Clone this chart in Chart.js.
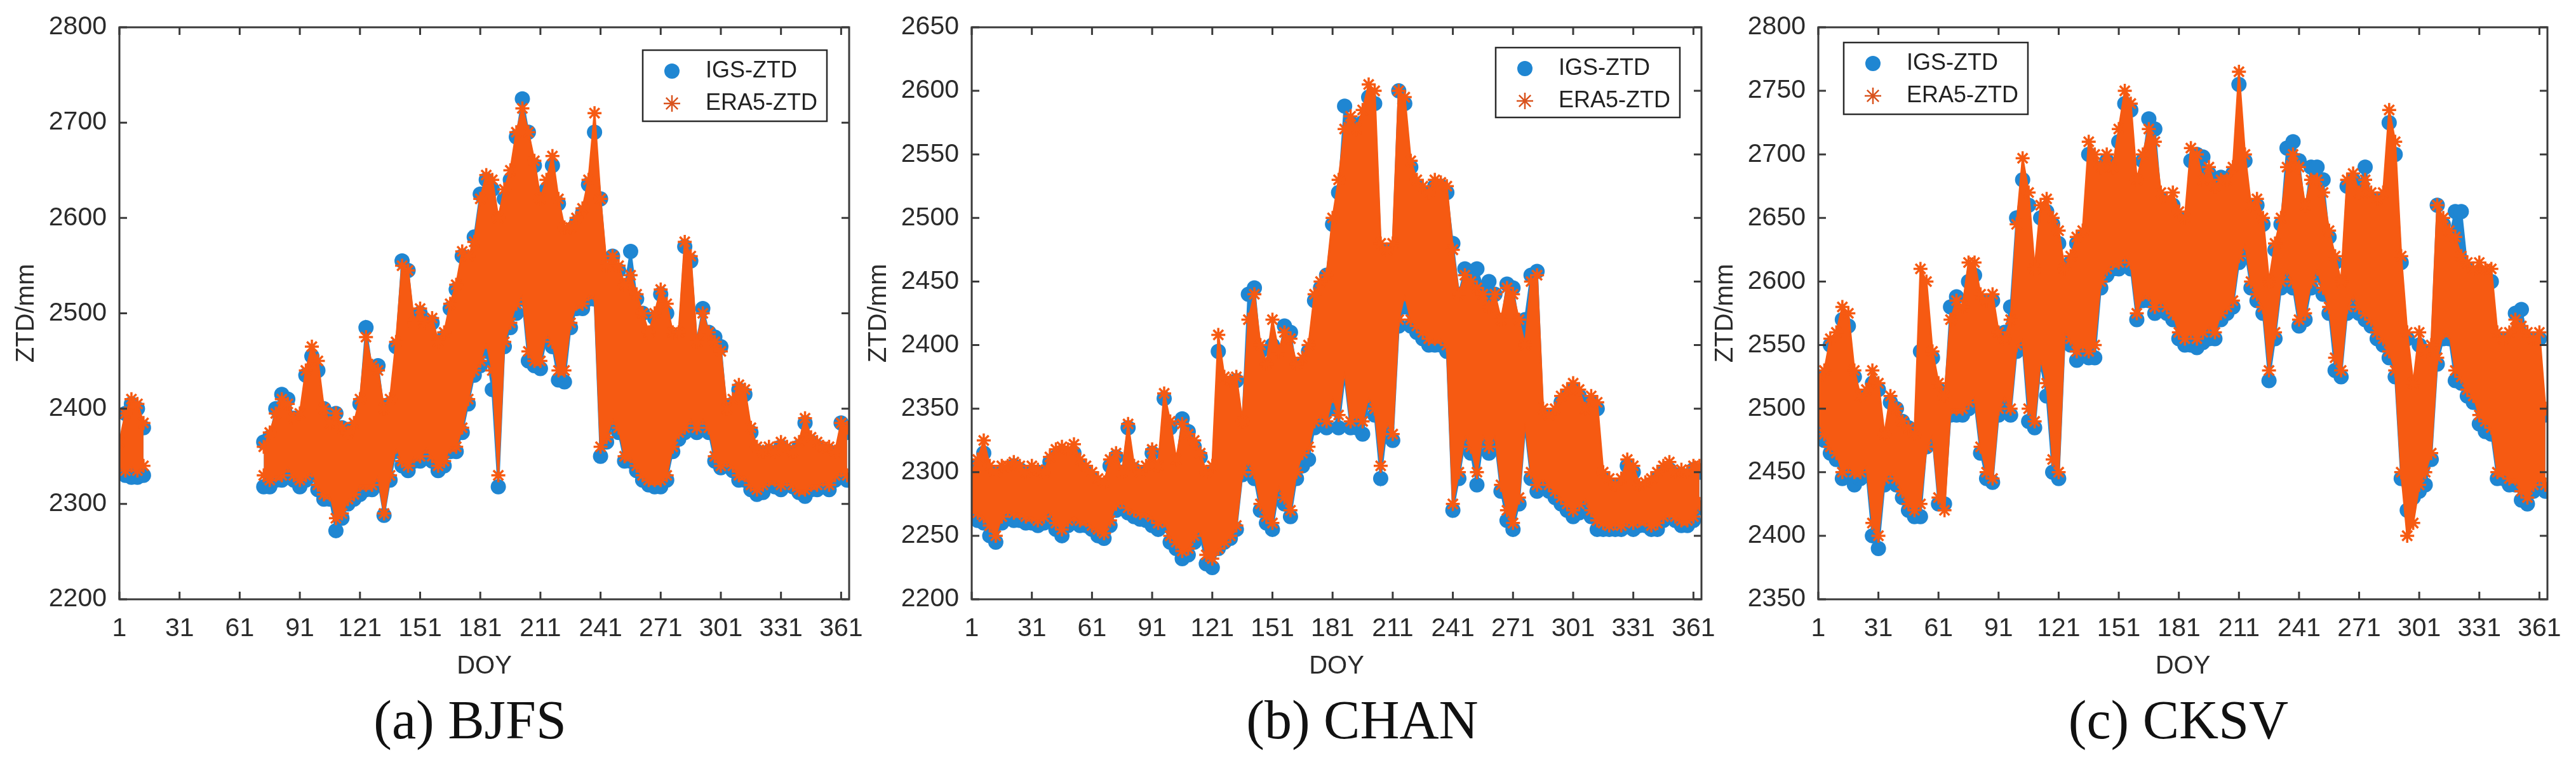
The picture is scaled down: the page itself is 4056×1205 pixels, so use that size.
<!DOCTYPE html>
<html lang="en">
<head>
<meta charset="UTF-8">
<title>IGS-ZTD vs ERA5-ZTD</title>
<style>
    html, body { margin: 0; padding: 0; background: #fff; }
    body { width: 4056px; height: 1205px; position: relative; overflow: hidden; }
    .panel { position: absolute; top: 0; }
    .cap {
        position: absolute; top: 1091px; width: 600px; text-align: center;
        font-family: "Liberation Serif", "Times New Roman", serif;
        font-size: 86px; line-height: 86px; color: #111;
    }
</style>
</head>
<body>
<div class="panel" style="left:0px"><canvas id="chartA" width="1397" height="1080"></canvas></div>
<div class="panel" style="left:1342px"><canvas id="chartB" width="1397" height="1080"></canvas></div>
<div class="panel" style="left:2675px"><canvas id="chartC" width="1396" height="1080"></canvas></div>

<div class="cap" style="left:440px">(a) BJFS</div>
<div class="cap" style="left:1845px">(b) CHAN</div>
<div class="cap" style="left:3130px">(c) CKSV</div>

<script src="https://cdn.jsdelivr.net/npm/chart.js@4"></script>
<script>
// sample days (every 3rd DOY)
const days = [
    1, 4, 7, 10, 13, 16, 19, 22, 25, 28,
    31, 34, 37, 40, 43, 46, 49, 52, 55, 58,
    61, 64, 67, 70, 73, 76, 79, 82, 85, 88,
    91, 94, 97, 100, 103, 106, 109, 112, 115, 118,
    121, 124, 127, 130, 133, 136, 139, 142, 145, 148,
    151, 154, 157, 160, 163, 166, 169, 172, 175, 178,
    181, 184, 187, 190, 193, 196, 199, 202, 205, 208,
    211, 214, 217, 220, 223, 226, 229, 232, 235, 238,
    241, 244, 247, 250, 253, 256, 259, 262, 265, 268,
    271, 274, 277, 280, 283, 286, 289, 292, 295, 298,
    301, 304, 307, 310, 313, 316, 319, 322, 325, 328,
    331, 334, 337, 340, 343, 346, 349, 352, 355, 358,
    361, 364
];
const xTicks = [1, 31, 61, 91, 121, 151, 181, 211, 241, 271, 301, 331, 361];
const yTicksA = [2200, 2300, 2400, 2500, 2600, 2700, 2800];
const yTicksB = [2200, 2250, 2300, 2350, 2400, 2450, 2500, 2550, 2600, 2650];
const yTicksC = [2350, 2400, 2450, 2500, 2550, 2600, 2650, 2700, 2750, 2800];

// (a) BJFS  -- upper / lower edge of the point cloud, mm
const bjfsEraHi = [
    2365, 2395, 2410, 2405, 2385, null, null, null, null, null,
    null, null, null, null, null, null, null, null, null, null,
    null, null, null, null, 2360, 2375, 2395, 2410, 2405, 2390,
    2395, 2440, 2465, 2450, 2400, 2385, 2395, 2380, 2375, 2385,
    2410, 2475, 2445, 2440, 2400, 2410, 2470, 2550, 2545, 2490,
    2505, 2490, 2495, 2470, 2480, 2510, 2530, 2565, 2560, 2575,
    2620, 2645, 2640, 2600, 2630, 2650, 2690, 2715, 2690, 2660,
    2620, 2640, 2665, 2620, 2590, 2590, 2600, 2610, 2640, 2710,
    2620, 2550, 2560, 2550, 2530, 2540, 2520, 2500, 2480, 2500,
    2525, 2510, 2480, 2480, 2575, 2560, 2470, 2500, 2480, 2470,
    2460, 2400, 2410, 2425, 2420, 2380, 2360, 2355, 2360, 2355,
    2365, 2360, 2355, 2365, 2390, 2370, 2365, 2360, 2360, 2355,
    2385, 2380
];
const bjfsEraLo = [
    2340, 2335, 2340, 2335, 2340, null, null, null, null, null,
    null, null, null, null, null, null, null, null, null, null,
    null, null, null, null, 2330, 2325, 2330, 2330, 2340, 2330,
    2325, 2330, 2335, 2320, 2310, 2310, 2285, 2290, 2305, 2310,
    2320, 2320, 2320, 2330, 2290, 2330, 2360, 2345, 2340, 2350,
    2350, 2360, 2350, 2340, 2345, 2360, 2360, 2380, 2410, 2440,
    2450, 2470, 2440, 2330, 2470, 2490, 2510, 2520, 2460, 2450,
    2450, 2480, 2470, 2440, 2440, 2490, 2510, 2510, 2520, 2520,
    2360, 2370, 2390, 2380, 2350, 2350, 2340, 2330, 2325, 2325,
    2325, 2330, 2360, 2375, 2380, 2390, 2380, 2390, 2380, 2350,
    2340, 2345, 2340, 2330, 2330, 2320, 2315, 2320, 2325, 2325,
    2320, 2325, 2320, 2315, 2315, 2320, 2320, 2325, 2320, 2330,
    2335, 2330
];
const bjfsIgsHi = [
    2360, 2395, 2405, 2400, 2380, null, null, null, null, null,
    null, null, null, null, null, null, null, null, null, null,
    null, null, null, null, 2365, 2370, 2400, 2415, 2410, 2390,
    2390, 2435, 2455, 2440, 2400, 2390, 2395, 2380, 2370, 2380,
    2405, 2485, 2440, 2445, 2395, 2405, 2465, 2555, 2545, 2485,
    2500, 2490, 2490, 2465, 2475, 2505, 2525, 2560, 2555, 2580,
    2625, 2640, 2630, 2590, 2620, 2640, 2685, 2725, 2690, 2655,
    2615, 2630, 2655, 2615, 2585, 2585, 2595, 2605, 2635, 2690,
    2620, 2545, 2560, 2545, 2525, 2565, 2515, 2500, 2475, 2495,
    2520, 2500, 2475, 2475, 2570, 2555, 2470, 2505, 2480, 2475,
    2465, 2395, 2405, 2420, 2415, 2375, 2355, 2350, 2355, 2350,
    2360, 2355, 2350, 2360, 2385, 2365, 2360, 2355, 2355, 2350,
    2385, 2375
];
const bjfsIgsLo = [
    2335, 2330, 2328, 2328, 2330, null, null, null, null, null,
    null, null, null, null, null, null, null, null, null, null,
    null, null, null, null, 2318, 2318, 2325, 2325, 2330, 2325,
    2318, 2325, 2330, 2315, 2305, 2305, 2272, 2285, 2300, 2305,
    2310, 2315, 2315, 2325, 2288, 2325, 2355, 2340, 2335, 2345,
    2345, 2355, 2345, 2335, 2340, 2355, 2355, 2375, 2405, 2435,
    2445, 2460, 2420, 2318, 2465, 2485, 2500, 2515, 2450, 2445,
    2442, 2475, 2465, 2430, 2428, 2485, 2505, 2505, 2515, 2515,
    2350, 2365, 2385, 2375, 2345, 2345, 2335, 2325, 2320, 2318,
    2318, 2325, 2355, 2368, 2375, 2385, 2375, 2380, 2375, 2345,
    2338, 2340, 2335, 2325, 2325, 2315, 2310, 2312, 2320, 2318,
    2315, 2320, 2318, 2312, 2308, 2315, 2315, 2318, 2315, 2325,
    2330, 2325
];

// (b) CHAN
const chanEraHi = [
    2300, 2310, 2325, 2305, 2300, 2305, 2305, 2308, 2305, 2300,
    2305, 2302, 2300, 2312, 2318, 2320, 2318, 2322, 2310, 2305,
    2300, 2295, 2292, 2310, 2315, 2300, 2338, 2305, 2300, 2305,
    2318, 2305, 2362, 2340, 2310, 2338, 2330, 2325, 2315, 2300,
    2305, 2408, 2375, 2372, 2375, 2340, 2420, 2440, 2400, 2385,
    2420, 2395, 2410, 2405, 2385, 2390, 2400, 2440, 2450, 2455,
    2500, 2530, 2570, 2580, 2570, 2585, 2605, 2600, 2480, 2475,
    2480, 2600, 2595, 2545, 2530, 2525, 2520, 2530, 2528, 2525,
    2475, 2440, 2455, 2450, 2445, 2440, 2430, 2440, 2420, 2445,
    2440, 2420, 2400, 2450, 2455, 2350, 2345, 2350, 2360, 2365,
    2370, 2365, 2350, 2360, 2355, 2300, 2295, 2290, 2295, 2310,
    2305, 2290, 2292, 2295, 2300, 2305, 2308, 2300, 2302, 2300,
    2305, 2305
];
const chanEraLo = [
    2270, 2268, 2265, 2258, 2250, 2265, 2270, 2268, 2268, 2265,
    2265, 2262, 2265, 2270, 2260, 2255, 2262, 2265, 2262, 2262,
    2258, 2255, 2252, 2262, 2275, 2278, 2272, 2270, 2268, 2268,
    2265, 2260, 2262, 2250, 2245, 2238, 2240, 2250, 2255, 2235,
    2232, 2240, 2245, 2250, 2258, 2300, 2310, 2300, 2275, 2265,
    2260, 2290, 2280, 2270, 2300, 2315, 2320, 2340, 2345, 2340,
    2360, 2345, 2380, 2340, 2345, 2340, 2360, 2350, 2305, 2340,
    2330, 2420, 2440, 2420, 2415, 2410, 2405, 2405, 2405, 2400,
    2275, 2300, 2330, 2320, 2300, 2330, 2320, 2330, 2290, 2270,
    2260, 2280, 2340, 2300, 2290, 2295, 2290, 2285, 2280, 2275,
    2270, 2275, 2280, 2270, 2262, 2260, 2258, 2260, 2258, 2262,
    2260, 2262, 2262, 2258, 2260, 2265, 2268, 2265, 2262, 2262,
    2265, 2275
];
const chanIgsHi = [
    2300, 2305, 2315, 2300, 2295, 2300, 2300, 2305, 2302, 2298,
    2300, 2300, 2298, 2308, 2312, 2315, 2312, 2315, 2305, 2300,
    2295, 2290, 2288, 2305, 2312, 2300, 2335, 2302, 2298, 2300,
    2315, 2300, 2358, 2335, 2305, 2342, 2332, 2320, 2312, 2298,
    2300, 2395, 2370, 2370, 2372, 2338, 2440, 2445, 2395, 2380,
    2400, 2390, 2415, 2410, 2380, 2385, 2395, 2435, 2445, 2455,
    2495, 2520, 2588, 2575, 2565, 2575, 2595, 2590, 2475, 2470,
    2475, 2600, 2590, 2540, 2525, 2520, 2515, 2525, 2525, 2520,
    2480, 2440, 2460, 2458, 2460, 2445, 2450, 2440, 2415, 2448,
    2445, 2415, 2420, 2455, 2458, 2345, 2340, 2345, 2355, 2360,
    2365, 2360, 2345, 2355, 2350, 2295, 2290, 2285, 2290, 2305,
    2300, 2285, 2288, 2290, 2295, 2300, 2302, 2298, 2298, 2295,
    2302, 2300
];
const chanIgsLo = [
    2265, 2262, 2260, 2250, 2245, 2260, 2265, 2262, 2262, 2260,
    2260, 2258, 2260, 2265, 2255, 2250, 2258, 2262, 2258, 2258,
    2255, 2250, 2248, 2258, 2270, 2272, 2268, 2265, 2263, 2262,
    2258, 2255, 2258, 2245, 2240, 2232, 2235, 2245, 2250, 2228,
    2225, 2240, 2245, 2248, 2255, 2298, 2305, 2295, 2270, 2260,
    2255, 2285, 2275, 2265, 2295, 2305, 2310, 2335, 2340, 2335,
    2350, 2335, 2375, 2335, 2335, 2330, 2355, 2345, 2295, 2335,
    2325, 2415, 2430, 2415, 2410, 2405, 2400, 2400, 2400, 2395,
    2270, 2295, 2325, 2315, 2290, 2325, 2315, 2325, 2285, 2262,
    2255, 2275, 2335, 2295, 2285, 2290, 2285, 2280, 2275, 2270,
    2265, 2268, 2275, 2265, 2255, 2255, 2255, 2255, 2255, 2258,
    2255, 2258, 2258, 2255, 2255, 2262, 2265, 2262, 2258, 2258,
    2262, 2272
];

// (c) CKSV
const cksvEraHi = [
    2525, 2530, 2555, 2560, 2580, 2575, 2530, 2510, 2515, 2530,
    2520, 2480, 2510, 2500, 2490, 2485, 2480, 2610, 2600, 2545,
    2520, 2510, 2570, 2585, 2580, 2615, 2615, 2590, 2585, 2590,
    2560, 2555, 2570, 2645, 2697, 2670, 2610, 2660, 2665, 2650,
    2640, 2610, 2620, 2635, 2640, 2710, 2700, 2690, 2700, 2690,
    2720, 2750, 2740, 2680, 2700, 2720, 2710, 2670, 2665, 2670,
    2655, 2650, 2705, 2700, 2680, 2690, 2675, 2680, 2680, 2690,
    2765, 2700, 2660, 2665, 2650, 2600, 2630, 2650, 2690, 2700,
    2690, 2660, 2680, 2680, 2670, 2640, 2620, 2600, 2680, 2685,
    2670, 2680, 2670, 2665, 2670, 2735, 2710, 2620, 2560, 2520,
    2560, 2545, 2550, 2660, 2650, 2640, 2635, 2620, 2615, 2610,
    2615, 2610, 2610, 2560, 2555, 2560, 2570, 2565, 2560, 2555,
    2560, 2500
];
const cksvEraLo = [
    2490, 2480, 2470, 2465, 2450, 2455, 2450, 2450, 2455, 2410,
    2400, 2445, 2450, 2445, 2435, 2425, 2420, 2425, 2470, 2480,
    2430, 2420, 2500, 2500, 2500, 2505, 2510, 2470, 2450, 2445,
    2500, 2510, 2500, 2550, 2555, 2500, 2490, 2540, 2520, 2460,
    2450, 2560, 2555, 2545, 2550, 2545, 2550, 2600, 2610, 2615,
    2615, 2620, 2615, 2575, 2590, 2590, 2580, 2585, 2580, 2575,
    2560, 2555, 2560, 2555, 2560, 2565, 2560, 2575, 2580, 2585,
    2620, 2630, 2600, 2590, 2580, 2530, 2560, 2600, 2610, 2600,
    2570, 2575, 2600, 2610, 2595, 2580, 2540, 2530, 2580, 2590,
    2580, 2575, 2570, 2560, 2555, 2545, 2530, 2450, 2400, 2410,
    2440, 2450, 2465, 2540, 2560, 2560, 2530, 2525, 2515, 2510,
    2495, 2490, 2485, 2450, 2450, 2445, 2445, 2435, 2430, 2440,
    2445, 2440
];
const cksvIgsHi = [
    2520, 2525, 2550, 2545, 2570, 2565, 2525, 2505, 2510, 2520,
    2515, 2475, 2505, 2500, 2490, 2485, 2475, 2545, 2520, 2540,
    2515, 2505, 2580, 2588, 2575, 2600, 2605, 2585, 2580, 2585,
    2555, 2560, 2580, 2650, 2680, 2660, 2605, 2650, 2655, 2645,
    2630, 2605, 2615, 2630, 2635, 2700, 2690, 2685, 2695, 2685,
    2710, 2740, 2735, 2675, 2695, 2728, 2720, 2665, 2660, 2660,
    2650, 2645, 2695, 2700, 2698, 2685, 2680, 2682, 2680, 2685,
    2755, 2695, 2655, 2660, 2645, 2595, 2625, 2645, 2705, 2710,
    2695, 2655, 2690, 2690, 2680, 2635, 2615, 2595, 2675, 2680,
    2675, 2690, 2665, 2660, 2665, 2725, 2700, 2615, 2555, 2515,
    2550, 2540, 2545, 2660, 2645, 2635, 2655, 2655, 2610, 2605,
    2605, 2605, 2600, 2555, 2550, 2555, 2575, 2578, 2555, 2550,
    2555, 2495
];
const cksvIgsLo = [
    2482, 2475, 2465, 2460, 2445, 2450, 2440, 2445, 2450, 2400,
    2390, 2440, 2445, 2440, 2430, 2420, 2415, 2415, 2470, 2478,
    2425, 2425, 2495, 2495, 2495, 2500, 2505, 2465, 2445, 2442,
    2495, 2505, 2495, 2545, 2550, 2490, 2485, 2535, 2510, 2450,
    2445, 2555, 2550, 2538, 2545, 2540, 2540, 2595, 2605, 2610,
    2610, 2615, 2610, 2570, 2585, 2585, 2575, 2580, 2575, 2570,
    2555, 2550, 2550, 2548, 2552, 2555, 2555, 2570, 2575, 2580,
    2615, 2625, 2595, 2585, 2575, 2522, 2555, 2595, 2605, 2595,
    2565, 2570, 2595, 2605, 2590, 2575, 2530, 2525, 2575, 2585,
    2575, 2570, 2565, 2555, 2550, 2540, 2525, 2445, 2420, 2430,
    2435, 2440, 2460, 2535, 2555, 2555, 2522, 2520, 2510, 2505,
    2488, 2482, 2480, 2445, 2445, 2440, 2440, 2428, 2425, 2435,
    2440, 2435
];

const BLUE = '#1f86d2';
const ORANGE = '#f65a12';
const AXIS = '#3a3a3a';
const TEXT = '#2b2b2b';
const FONT = '"Liberation Sans", Arial, sans-serif';

Chart.defaults.font.family = FONT;

function pts(vals) {
    return days.map((d, i) => ({ x: d, y: vals[i] }));
}

// axes box, inward ticks and the boxed legend (MATLAB look)
const framePlugin = {
    id: 'frame',
    afterDraw(chart, args, opts) {
        const { ctx, chartArea: a, scales } = chart;
        ctx.save();
        ctx.strokeStyle = AXIS;
        ctx.lineWidth = 3;
        ctx.beginPath();
        scales.x.ticks.forEach(t => {
            const px = scales.x.getPixelForValue(t.value);
            ctx.moveTo(px, a.bottom); ctx.lineTo(px, a.bottom - 12);
            ctx.moveTo(px, a.top); ctx.lineTo(px, a.top + 12);
        });
        scales.y.ticks.forEach(t => {
            const py = scales.y.getPixelForValue(t.value);
            ctx.moveTo(a.left, py); ctx.lineTo(a.left + 12, py);
            ctx.moveTo(a.right, py); ctx.lineTo(a.right - 12, py);
        });
        ctx.stroke();
        ctx.strokeRect(a.left, a.top, a.right - a.left, a.bottom - a.top);

        // legend
        const w = 290, h = opts.h;
        const bx = opts.side === 'left' ? a.left + opts.dx : a.right - opts.dx - w;
        const by = a.top + opts.dy;
        ctx.fillStyle = '#fff';
        ctx.fillRect(bx, by, w, h);
        ctx.lineWidth = 2.5;
        ctx.strokeStyle = '#2a2a2a';
        ctx.strokeRect(bx, by, w, h);

        const mx = bx + 46;
        const r1 = by + 33, r2 = by + 84;
        ctx.fillStyle = BLUE;
        ctx.beginPath();
        ctx.arc(mx, r1, 12, 0, Math.PI * 2);
        ctx.fill();
        ctx.strokeStyle = '#d9531e';
        ctx.fillStyle = '#d9531e';
        if (Chart.helpers && Chart.helpers.drawPoint) {
            Chart.helpers.drawPoint(ctx, { pointStyle: 'star', radius: 13, borderWidth: 3, rotation: 0 }, mx, r2);
        }

        ctx.fillStyle = '#222';
        ctx.font = '36px ' + FONT;
        ctx.textAlign = 'left';
        ctx.textBaseline = 'middle';
        ctx.fillText('IGS-ZTD', bx + 99, r1);
        ctx.fillText('ERA5-ZTD', bx + 99, r2);
        ctx.restore();
    }
};

function makeChart(id, igsLo, igsHi, eraLo, eraHi, yMin, yMax, yTicks, legend) {
    new Chart(document.getElementById(id), {
        type: 'line',
        data: {
            datasets: [
                {
                    data: pts(igsLo), order: 4,
                    borderColor: BLUE, borderWidth: 3, tension: 0,
                    pointStyle: 'circle', pointRadius: 12, pointBorderWidth: 0,
                    pointBackgroundColor: BLUE, fill: false
                },
                {
                    data: pts(igsHi), order: 3,
                    borderColor: BLUE, borderWidth: 3, tension: 0,
                    backgroundColor: BLUE, fill: '-1',
                    pointStyle: 'circle', pointRadius: 12, pointBorderWidth: 0,
                    pointBackgroundColor: BLUE
                },
                {
                    data: pts(eraLo), order: 2,
                    borderColor: ORANGE, borderWidth: 3, tension: 0,
                    pointStyle: 'star', pointRadius: 11, pointBorderWidth: 3.5,
                    pointBorderColor: ORANGE, pointBackgroundColor: ORANGE, fill: false
                },
                {
                    data: pts(eraHi), order: 1,
                    borderColor: ORANGE, borderWidth: 3, tension: 0,
                    backgroundColor: ORANGE, fill: '-1',
                    pointStyle: 'star', pointRadius: 11, pointBorderWidth: 3.5,
                    pointBorderColor: ORANGE, pointBackgroundColor: ORANGE
                }
            ]
        },
        options: {
            responsive: false,
            animation: false,
            devicePixelRatio: 1,
            layout: { padding: { top: 43, right: 60, left: 0, bottom: 0 } },
            plugins: {
                legend: { display: false },
                tooltip: { enabled: false },
                frame: legend
            },
            scales: {
                x: {
                    type: 'linear', min: 1, max: 365,
                    grid: { display: false, drawTicks: false },
                    border: { display: false },
                    afterBuildTicks: s => { s.ticks = xTicks.map(v => ({ value: v })); },
                    afterFit: s => { s.height = 136; s.paddingLeft = 0; s.paddingRight = 0; },
                    ticks: {
                        padding: 22, color: TEXT, font: { size: 41 },
                        maxRotation: 0, autoSkip: false,
                        callback: v => String(v)
                    },
                    title: {
                        display: true, text: 'DOY', color: TEXT,
                        font: { size: 40 }, padding: { top: 0, bottom: 6 }
                    }
                },
                y: {
                    min: yMin, max: yMax,
                    grid: { display: false, drawTicks: false },
                    border: { display: false },
                    afterBuildTicks: s => { s.ticks = yTicks.map(v => ({ value: v })); },
                    afterFit: s => { s.width = 188; s.paddingTop = 0; s.paddingBottom = 0; },
                    ticks: {
                        padding: 20, color: TEXT, font: { size: 41 },
                        autoSkip: false,
                        callback: v => String(v)
                    },
                    title: {
                        display: true, text: 'ZTD/mm', color: TEXT,
                        font: { size: 40 }, padding: { top: 18, bottom: 0 }
                    }
                }
            }
        },
        plugins: [framePlugin]
    });
}

makeChart('chartA', bjfsIgsLo, bjfsIgsHi, bjfsEraLo, bjfsEraHi, 2200, 2800, yTicksA,
    { side: 'right', dx: 35, dy: 36, h: 112 });
makeChart('chartB', chanIgsLo, chanIgsHi, chanEraLo, chanEraHi, 2200, 2650, yTicksB,
    { side: 'right', dx: 34, dy: 32, h: 110 });
makeChart('chartC', cksvIgsLo, cksvIgsHi, cksvEraLo, cksvEraHi, 2350, 2800, yTicksC,
    { side: 'left', dx: 40, dy: 24, h: 113 });
</script>
</body>
</html>
